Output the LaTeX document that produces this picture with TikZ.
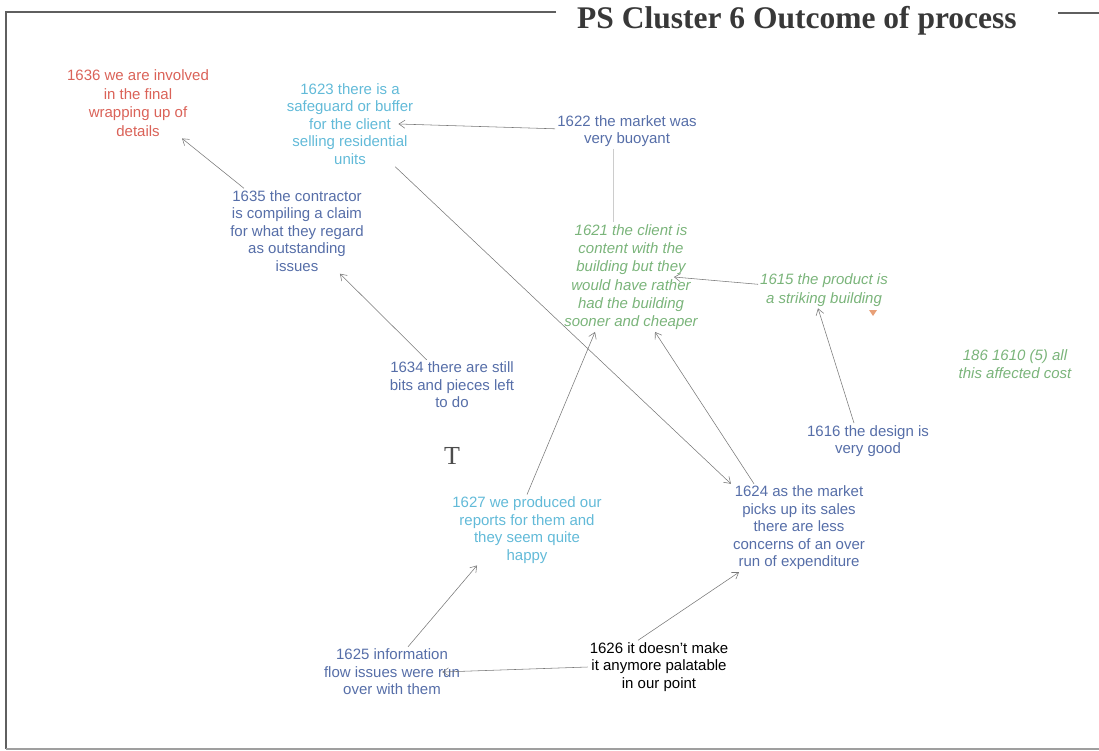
\documentclass[tikz,border=0pt]{standalone}
\usepackage{fontspec}
\setmainfont{Liberation Sans}
\newfontfamily\titlefont{Liberation Serif}
\usetikzlibrary{arrows.meta}

\definecolor{slate}{RGB}{86,110,168}
\definecolor{sky}{RGB}{98,186,216}
\definecolor{sage}{RGB}{122,180,122}
\definecolor{coral}{RGB}{218,98,88}
\definecolor{wire}{RGB}{120,120,120}
\definecolor{framegray}{RGB}{95,95,95}
\definecolor{marker}{RGB}{232,160,120}

\tikzset{
  stmt/.style={align=center, inner sep=2pt, font=\fontsize{15}{17.5}\selectfont},
  quote/.style={stmt, font=\fontsize{15}{18.3}\selectfont\itshape, text=sage},
  link/.style={draw=wire, line width=0.55pt, -{Straight Barb[length=6pt,width=8pt]}},
  faintlink/.style={draw=black!20, line width=0.5pt},
}

\begin{document}
\begin{tikzpicture}[x=1pt,y=-1pt]
    \useasboundingbox (0,0) rectangle (1099,751);

    % Frame and heading
    \draw[framegray, line width=2.5pt] (556,12) -- (6,12) -- (6,749);
    \draw[framegray!60, line width=1.5pt] (6,749) -- (1099,749);
    \draw[framegray, line width=2.5pt] (1058,13) -- (1099,13);
    \node[anchor=base west, inner sep=0pt, text=black!78,
          font=\titlefont\bfseries\fontsize{31.5}{36}\selectfont] (title) at (577,29)
          {PS Cluster 6 Outcome of process};

    % Statements
    \node[stmt, text=coral, font=\fontsize{15}{18.5}\selectfont] (p1636) at (138,103)
        {1636 we are involved\\in the final\\wrapping up of\\details};
    \node[stmt, text=sky] (p1623) at (350,124)
        {1623 there is a\\safeguard or buffer\\for the client\\selling residential\\units};
    \node[stmt, text=slate] (p1622) at (627,131) {1622 the market was\\very buoyant};
    \node[stmt, text=slate] (p1635) at (297,231)
        {1635 the contractor\\is compiling a claim\\for what they regard\\as outstanding\\issues};
    \node[quote] (p1621) at (631,277)
        {1621 the client is\\content with the\\building but they\\would have rather\\had the building\\sooner and cheaper};
    \node[quote] (p1615) at (824,290) {1615 the product is\\a striking building};
    \node[stmt, text=slate] (p1634) at (452,385) {1634 there are still\\bits and pieces left\\to do};
    \node[quote] (p1610) at (1015,364) {186 1610 (5) all\\this affected cost};
    \node[stmt, text=slate] (p1616) at (868,441) {1616 the design is\\very good};
    \node[stmt, text=sky] (p1627) at (527,530)
        {1627 we produced our\\reports for them and\\they seem quite\\happy};
    \node[stmt, text=slate] (p1624) at (799,528)
        {1624 as the market\\picks up its sales\\there are less\\concerns of an over\\run of expenditure};
    \node[stmt, text=slate] (p1625) at (392,672) {1625 information\\flow issues were run\\over with them};
    \node[stmt, text=black] (p1626) at (659,667) {1626 it doesn't make\\it anymore palatable\\in our point};

    % Stray marks
    \node[text=black!70, inner sep=0pt, font=\titlefont\fontsize{26}{26}\selectfont] (cursor) at (452,456) {T};
    \fill[marker] (869,310) -- (877,310) -- (873,316) -- cycle;

    % Links
    \draw[link] (p1635) -- (p1636);
    \draw[link] (p1622) -- ([xshift=-17pt]p1623.east);
    \draw[faintlink] ([xshift=-14pt]p1622.south) -- ([xshift=-14pt]p1622.south |- p1621.north);
    \draw[link] (p1623) -- (p1624.north west);
    \draw[link] (p1634) -- (p1635);
    \draw[link] (p1615) -- ([xshift=-26pt]p1621.east);
    \draw[link] ([xshift=-14pt]p1616.north) -- ([xshift=-6pt]p1615.south);
    \draw[link] ([xshift=-45pt]p1624.north) -- ([xshift=24pt]p1621.south);
    \draw[link] (p1627.north) -- ([xshift=-36pt]p1621.south);
    \draw[link] ([xshift=16pt]p1625.north) -- ([xshift=-50pt]p1627.south);
    \draw[link] ([xshift=-21pt]p1626.north) -- ([xshift=-60pt]p1624.south);
    \draw[link] (p1626.west) -- ([xshift=-20pt]p1625.east);
\end{tikzpicture}
\end{document}
